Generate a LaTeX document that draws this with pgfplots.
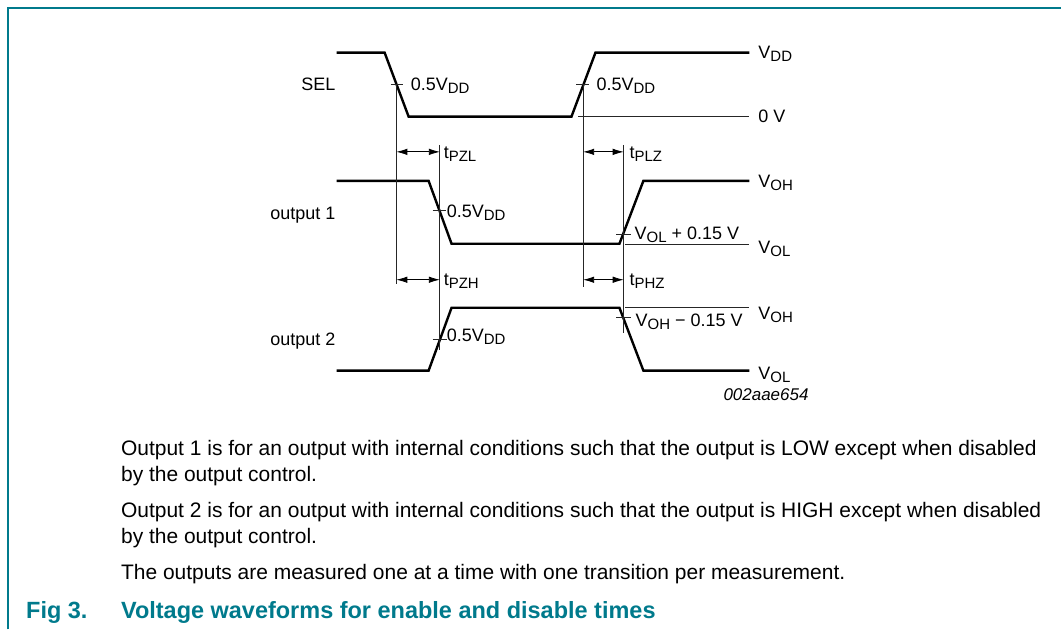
\documentclass[border=0pt]{standalone}
\usepackage{pgfplots}
\pgfplotsset{compat=1.18}
\usetikzlibrary{arrows.meta}
\usepackage{fontspec}
\setmainfont{Liberation Sans}
\definecolor{nxpteal}{RGB}{0,122,140}
\newcommand\dfont{\fontsize{18}{21}\selectfont}
\newcommand\sbs[1]{\raisebox{-3pt}{\fontsize{15}{17}\selectfont #1}}
\newcommand\bfont{\fontsize{21}{24}\selectfont}
\begin{document}
\begin{tikzpicture}
\begin{axis}[width=1062pt,height=630pt,scale only axis,
  xmin=0,xmax=1062,ymin=0,ymax=630,y dir=reverse,
  axis lines=none, clip=false]
% bounding box corners
\addplot[draw=none] coordinates {(0,0) (1062,630)};
% frame
\addplot[nxpteal, line width=2pt, line join=miter] coordinates {(8.3,630) (8.3,8.3) (1062,8.3)};
% waveforms
\addplot[black, line width=2.4pt, line join=miter] coordinates {(337,52.7) (385,52.7) (409,116.7) (572,116.7) (596,52.7) (750,52.7)};
\addplot[black, line width=2.4pt, line join=miter] coordinates {(337,181) (429,181) (452,244) (620,244) (644,181) (750,181)};
\addplot[black, line width=2.4pt, line join=miter] coordinates {(337,371) (429,371) (452,308) (620,308) (644,371) (750,371)};
% reference lines
\addplot[black!85, line width=0.8pt] coordinates {(579,116.7) (750,116.7)};
\addplot[black!85, line width=0.8pt] coordinates {(626,244.3) (750,244.3)};
\addplot[black!85, line width=0.8pt] coordinates {(626,308) (750,308)};
% verticals
\addplot[black!85, line width=0.8pt] coordinates {(396.7,84) (396.7,284)};
\addplot[black!85, line width=0.8pt] coordinates {(440.3,145) (440.3,350)};
\addplot[black!85, line width=0.8pt] coordinates {(583.7,84) (583.7,287)};
\addplot[black!85, line width=0.8pt] coordinates {(624.3,145) (624.3,333)};
% ticks
\addplot[black!85, line width=0.8pt] coordinates {(391,84.3) (403,84.3)};
\addplot[black!85, line width=0.8pt] coordinates {(577,84.3) (590,84.3)};
\addplot[black!85, line width=0.8pt] coordinates {(433,211) (446,211)};
\addplot[black!85, line width=0.8pt] coordinates {(433,340) (447,340)};
\addplot[black!85, line width=0.8pt] coordinates {(617,235) (632,235)};
\addplot[black!85, line width=0.8pt] coordinates {(617,318) (632,318)};
% arrows
\addplot[black, line width=0.8pt, {Latex[length=11pt,width=6.5pt]}-{Latex[length=11pt,width=6.5pt]}] coordinates {(396.7,152) (440.3,152)};
\addplot[black, line width=0.8pt, {Latex[length=11pt,width=6.5pt]}-{Latex[length=11pt,width=6.5pt]}] coordinates {(396.7,280) (440.3,280)};
\addplot[black, line width=0.8pt, {Latex[length=11pt,width=6.5pt]}-{Latex[length=11pt,width=6.5pt]}] coordinates {(583.7,152) (624.3,152)};
\addplot[black, line width=0.8pt, {Latex[length=11pt,width=6.5pt]}-{Latex[length=11pt,width=6.5pt]}] coordinates {(583.7,280) (624.3,280)};
% labels
\node[anchor=base west, font=\dfont, inner sep=0pt] at (axis cs:759,59) {V\sbs{DD}};
\node[anchor=base west, font=\dfont, inner sep=0pt] at (axis cs:759,123) {0 V};
\node[anchor=base west, font=\dfont, inner sep=0pt] at (axis cs:759,188) {V\sbs{OH}};
\node[anchor=base west, font=\dfont, inner sep=0pt] at (axis cs:759,254) {V\sbs{OL}};
\node[anchor=base west, font=\dfont, inner sep=0pt] at (axis cs:759,320) {V\sbs{OH}};
\node[anchor=base west, font=\dfont, inner sep=0pt] at (axis cs:759,380) {V\sbs{OL}};
\node[anchor=base east, font=\dfont, inner sep=0pt] at (axis cs:336,91) {SEL};
\node[anchor=base east, font=\dfont, inner sep=0pt] at (axis cs:336,220) {output 1};
\node[anchor=base east, font=\dfont, inner sep=0pt] at (axis cs:336,346) {output 2};
\node[anchor=base west, font=\dfont, inner sep=0pt] at (axis cs:411,91) {0.5V\sbs{DD}};
\node[anchor=base west, font=\dfont, inner sep=0pt] at (axis cs:597,91) {0.5V\sbs{DD}};
\node[anchor=base west, font=\dfont, inner sep=0pt] at (axis cs:447,218) {0.5V\sbs{DD}};
\node[anchor=base west, font=\dfont, inner sep=0pt] at (axis cs:447,342) {0.5V\sbs{DD}};
\node[anchor=base west, font=\dfont, inner sep=0pt] at (axis cs:444,159) {t\sbs{PZL}};
\node[anchor=base west, font=\dfont, inner sep=0pt] at (axis cs:444,286) {t\sbs{PZH}};
\node[anchor=base west, font=\dfont, inner sep=0pt] at (axis cs:630,159) {t\sbs{PLZ}};
\node[anchor=base west, font=\dfont, inner sep=0pt] at (axis cs:630,286) {t\sbs{PHZ}};
\node[anchor=base west, font=\dfont, inner sep=0pt] at (axis cs:635,240) {V\sbs{OL} + 0.15 V};
\node[anchor=base west, font=\dfont, inner sep=0pt] at (axis cs:636,327) {V\sbs{OH} − 0.15 V};
\node[anchor=base west, font=\fontsize{17}{20}\selectfont\itshape, inner sep=0pt] at (axis cs:724,401) {002aae654};
% body text
\node[anchor=base west, font=\bfont, inner sep=0pt] at (axis cs:121,456) {Output 1 is for an output with internal conditions such that the output is LOW except when disabled};
\node[anchor=base west, font=\bfont, inner sep=0pt] at (axis cs:121,482) {by the output control.};
\node[anchor=base west, font=\bfont, inner sep=0pt] at (axis cs:121,518) {Output 2 is for an output with internal conditions such that the output is HIGH except when disabled};
\node[anchor=base west, font=\bfont, inner sep=0pt] at (axis cs:121,544) {by the output control.};
\node[anchor=base west, font=\bfont, inner sep=0pt] at (axis cs:121,580) {The outputs are measured one at a time with one transition per measurement.};
\node[anchor=base west, font=\fontsize{23.5}{27}\selectfont\bfseries, text=nxpteal, inner sep=0pt] at (axis cs:26,619) {Fig 3.};
\node[anchor=base west, font=\fontsize{23.5}{27}\selectfont\bfseries, text=nxpteal, inner sep=0pt] at (axis cs:121,619) {Voltage waveforms for enable and disable times};
\end{axis}
\end{tikzpicture}
\end{document}
